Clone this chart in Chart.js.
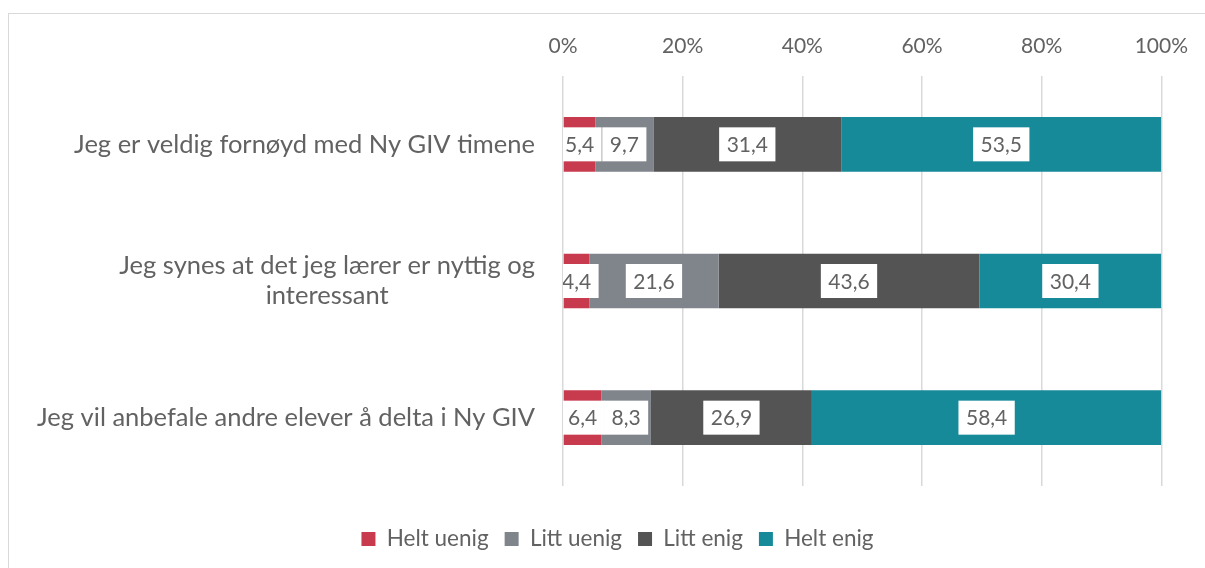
<!DOCTYPE html>
<html>
<head>
<meta charset="utf-8">
<script src="https://cdn.jsdelivr.net/npm/chart.js@4.4.1/dist/chart.umd.min.js"></script>
<style>
  html, body { margin: 0; padding: 0; background: #ffffff; overflow: hidden; }
  #wrap { position: relative; width: 1205px; height: 568px; }
  #frame { position: absolute; left: 8px; top: 13px; width: 1400px; height: 800px;
           border-left: 1.5px solid #d9d9d9; border-top: 1.5px solid #d9d9d9; }
  canvas { position: absolute; left: 0; top: 0; }
</style>
</head>
<body>
<div id="wrap">
  <div id="frame"></div>
  <canvas id="c" width="1205" height="568"></canvas>
</div>
<script>
const categories = [
  "Jeg er veldig fornøyd med Ny GIV timene",
  ["Jeg synes at det jeg lærer er nyttig og", "interessant"],
  "Jeg vil anbefale andre elever å delta i Ny GIV"
];
const seriesNames = ["Helt uenig", "Litt uenig", "Litt enig", "Helt enig"];
const heltUenig = [5.4, 4.4, 6.4];
const littUenig = [9.7, 21.6, 8.3];
const littEnig  = [31.4, 43.6, 26.9];
const heltEnig  = [53.5, 30.4, 58.4];
const tickValues = [0, 20, 40, 60, 80, 100];
const colors = ["#C83B4E", "#80858C", "#545454", "#178A99"];

const FONT = "Lato, 'Open Sans', sans-serif";
const TEXT = "#626262";

const fmt = v => v.toFixed(1).replace('.', ',');

const boxLabels = {
  id: 'boxLabels',
  afterDatasetsDraw(chart) {
    const ctx = chart.ctx;
    const area = chart.chartArea;
    ctx.save();
    ctx.beginPath();
    ctx.rect(area.left, area.top, area.right - area.left, area.bottom - area.top);
    ctx.clip();
    ctx.font = "21px " + FONT;
    ctx.textAlign = 'center';
    ctx.textBaseline = 'middle';
    chart.data.datasets.forEach((ds, di) => {
      const meta = chart.getDatasetMeta(di);
      meta.data.forEach((bar, i) => {
        const v = ds.data[i];
        const txt = fmt(v);
        const cx = (bar.x + bar.base) / 2;
        const cy = bar.y;
        const w = ctx.measureText(txt).width + 15;
        const h = 34;
        ctx.fillStyle = '#ffffff';
        ctx.fillRect(cx - w / 2, cy - h / 2, w, h);
        ctx.fillStyle = TEXT;
        ctx.fillText(txt, cx, cy + 1);
      });
    });
    ctx.restore();
  }
};

const catLabels = {
  id: 'catLabels',
  afterDraw(chart) {
    const ctx = chart.ctx;
    const ys = chart.scales.y;
    const rightEdge = chart.chartArea.left - 28;
    ctx.save();
    ctx.font = "25.5px " + FONT;
    ctx.fillStyle = TEXT;
    ctx.textAlign = 'center';
    ctx.textBaseline = 'middle';
    const lh = 30;
    categories.forEach((lab, i) => {
      const lines = Array.isArray(lab) ? lab : [lab];
      const maxW = Math.max(...lines.map(l => ctx.measureText(l).width));
      const cx = rightEdge - maxW / 2;
      const cy = ys.getPixelForValue(i);
      const y0 = cy - (lines.length - 1) * lh / 2;
      lines.forEach((l, k) => ctx.fillText(l, cx, y0 + k * lh));
    });
    ctx.restore();
  }
};

const datasets = [heltUenig, littUenig, littEnig, heltEnig].map((d, i) => ({
  label: seriesNames[i],
  data: d,
  backgroundColor: colors[i],
  borderWidth: 0,
  barPercentage: 0.4,
  categoryPercentage: 1.0
}));

new Chart(document.getElementById('c'), {
  type: 'bar',
  data: { labels: categories.map(c => Array.isArray(c) ? c.join(' ') : c), datasets },
  options: {
    indexAxis: 'y',
    responsive: false,
    animation: false,
    devicePixelRatio: 1,
    layout: { padding: { top: 0, right: 0, bottom: 7.75, left: 30 } },
    scales: {
      x: {
        position: 'top',
        stacked: true,
        min: 0, max: 100,
        afterBuildTicks: s => { s.ticks = tickValues.map(v => ({ value: v })); },
        afterFit: s => { s.height = 76; },
        grid: { color: '#d9d9d9', lineWidth: 1.5, drawTicks: false },
        border: { display: false },
        ticks: {
          padding: 17,
          color: TEXT,
          font: { family: FONT, size: 21 },
          callback: v => v + '%'
        }
      },
      x2: {
        position: 'bottom',
        min: 0, max: 100,
        afterFit: s => { s.height = 25.75; },
        grid: { display: false, drawTicks: false },
        border: { display: false },
        ticks: { display: false }
      },
      y: {
        stacked: true,
        afterFit: s => { s.width = 533; },
        grid: { display: false, drawTicks: false },
        border: { display: false },
        ticks: { display: false }
      },
      y2: {
        position: 'right',
        afterFit: s => { s.width = 41; },
        grid: { display: false, drawTicks: false },
        border: { display: false },
        ticks: { display: false }
      }
    },
    plugins: {
      legend: {
        position: 'bottom',
        labels: {
          boxWidth: 14,
          boxHeight: 14,
          padding: 16,
          color: TEXT,
          font: { family: FONT, size: 22.5 }
        }
      },
      tooltip: { enabled: false }
    }
  },
  plugins: [boxLabels, catLabels]
});
</script>
</body>
</html>
